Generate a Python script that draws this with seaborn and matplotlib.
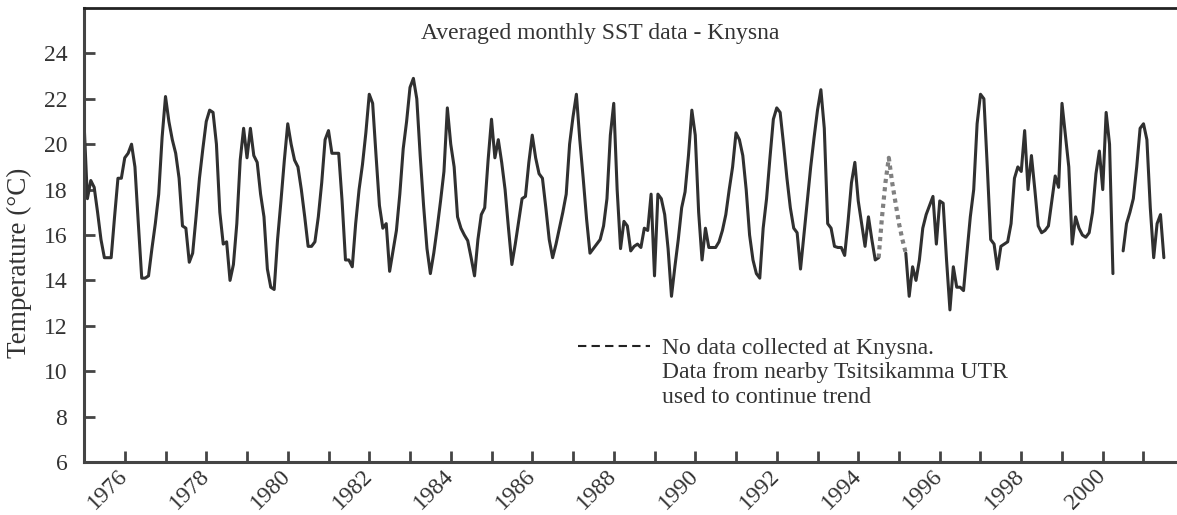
import numpy as np
import pandas as pd
import matplotlib
matplotlib.use("Agg")
import matplotlib.pyplot as plt
from matplotlib.lines import Line2D
import seaborn as sns

nan = np.nan

# Monthly averaged SST at Knysna (deg C), rows of 12 months starting Jan 1975
knysna_sst = [
    21.0, 17.6, 18.4, 18.1, 17.0, 15.8, 15.0, 15.0, 15.0, 16.8, 18.5, 18.5,
    19.4, 19.6, 20.0, 19.0, 16.5, 14.1, 14.1, 14.2, 15.4, 16.5, 17.8, 20.3,
    22.1, 21.0, 20.2, 19.6, 18.5, 16.4, 16.3, 14.8, 15.2, 16.8, 18.5, 19.8,
    21.0, 21.5, 21.4, 20.0, 17.0, 15.6, 15.7, 14.0, 14.7, 16.5, 19.3, 20.7,
    19.4, 20.7, 19.5, 19.2, 17.8, 16.8, 14.5, 13.7, 13.6, 15.8, 17.5, 19.3,
    20.9, 20.0, 19.3, 19.0, 18.0, 16.8, 15.5, 15.5, 15.7, 16.8, 18.3, 20.2,
    20.6, 19.6, 19.6, 19.6, 17.5, 14.9, 14.9, 14.6, 16.5, 18.0, 19.1, 20.5,
    22.2, 21.8, 19.5, 17.3, 16.3, 16.5, 14.4, 15.3, 16.2, 17.8, 19.8, 21.0,
    22.5, 22.9, 22.0, 19.5, 17.3, 15.4, 14.3, 15.2, 16.3, 17.5, 18.8, 21.6,
    20.0, 19.0, 16.8, 16.3, 16.0, 15.75, 15.0, 14.2, 15.8, 16.9, 17.2, 19.3,
    21.1, 19.4, 20.2, 19.2, 18.0, 16.3, 14.7, 15.6, 16.6, 17.6, 17.7, 19.2,
    20.4, 19.4, 18.7, 18.5, 17.2, 15.8, 15.0, 15.6, 16.3, 17.0, 17.8, 20.0,
    21.2, 22.2, 20.2, 18.5, 16.7, 15.2, 15.4, 15.6, 15.8, 16.4, 17.6, 20.4,
    21.8, 18.0, 15.4, 16.6, 16.4, 15.3, 15.5, 15.6, 15.45, 16.3, 16.2, 17.8,
    14.2, 17.8, 17.6, 16.9, 15.4, 13.3, 14.6, 15.8, 17.2, 17.9, 19.5, 21.5,
    20.4, 17.0, 14.9, 16.3, 15.45, 15.45, 15.45, 15.7, 16.2, 16.9, 18.0, 19.0,
    20.5, 20.2, 19.5, 18.0, 16.0, 14.9, 14.3, 14.1, 16.3, 17.6, 19.4, 21.1,
    21.6, 21.4, 20.0, 18.5, 17.2, 16.3, 16.1, 14.5, 16.0, 17.5, 19.0, 20.3,
    21.5, 22.4, 20.7, 16.5, 16.3, 15.5, 15.45, 15.45, 15.1, 16.6, 18.3, 19.2,
    17.5, 16.5, 15.5, 16.8, 15.8, 14.9, 15.0, nan, nan, nan, nan, nan,
    nan, nan, 15.2, 13.3, 14.6, 14.0, 14.9, 16.3, 16.9, 17.3, 17.7, 15.6,
    17.5, 17.4, 14.9, 12.7, 14.6, 13.7, 13.7, 13.55, 15.2, 16.8, 18.0, 20.9,
    22.2, 22.0, 19.0, 15.8, 15.6, 14.5, 15.5, 15.6, 15.7, 16.5, 18.5, 19.0,
    18.8, 20.6, 18.0, 19.5, 18.0, 16.4, 16.1, 16.2, 16.4, 17.5, 18.6, 18.1,
    21.8, 20.4, 19.0, 15.6, 16.8, 16.3, 16.0, 15.9, 16.1, 17.0, 18.7, 19.7,
    18.0, 21.4, 20.0, 14.3, nan, nan, 15.3, 16.5, 17.0, 17.6, 19.0, 20.7,
    20.9, 20.2, 17.2, 15.0, 16.5, 16.9, 15.0,
]

# Tsitsikamma UTR data used to bridge the Knysna gap (month index 234..242)
tsitsikamma_start = 234
tsitsikamma_sst = [15.0, 16.8, 18.3, 19.4, 18.3, 17.4, 16.5, 15.8, 15.2]

start_year = 1975
labelled_years = list(range(1976, 2001, 2))
unlabelled_years = list(range(1977, 2002, 2))
y_ticks = list(range(6, 25, 2))

title_text = "Averaged monthly SST data - Knysna"
note_first = "No data collected at Knysna."
note_rest = "Data from nearby Tsitsikamma UTR\nused to continue trend"
y_label = "Temperature (\u00b0C)"

# ---- build tables ----
n = len(knysna_sst)
df = pd.DataFrame({"idx": np.arange(n), "sst": knysna_sst})
df["year"] = start_year + df["idx"] / 12.0
df["seg"] = df["sst"].isna().cumsum()
df = df.dropna()

dfd = pd.DataFrame({"idx": tsitsikamma_start + np.arange(len(tsitsikamma_sst)),
                    "sst": tsitsikamma_sst})
dfd["year"] = start_year + dfd["idx"] / 12.0

# ---- style ----
sns.set_style("ticks")
plt.rcParams["font.family"] = ["Liberation Serif", "DejaVu Serif"]
text_col = "#333333"
axis_col = "#444444"
fs = 17

fig = plt.figure(figsize=(11.77, 5.15), dpi=100)
ax = fig.add_axes([84 / 1177, 53 / 515, 1 - 84 / 1177, 454 / 515])

sns.lineplot(data=df, x="year", y="sst", units="seg", estimator=None,
             color="#303030", linewidth=2.2, ax=ax, legend=False)
sns.lineplot(data=dfd, x="year", y="sst", color="#808080", linewidth=3.0,
             linestyle=(0, (1, 1)), ax=ax, legend=False)

ax.set_xlim(1975.0, 1975.0 + 1093 / 40.75)
ax.set_ylim(6, 26)
ax.set_yticks(y_ticks)
ax.set_xticks(labelled_years)
ax.set_xticks(unlabelled_years, minor=True)
ax.set_xticklabels([str(y) for y in labelled_years], rotation=45,
                   ha="right", va="center", rotation_mode="anchor")

for which in ("major", "minor"):
    ax.tick_params(axis="both", which=which, direction="in", length=8,
                   width=2, color=axis_col, labelcolor=text_col,
                   labelsize=fs)
ax.tick_params(axis="y", which="major", pad=12)
ax.tick_params(axis="x", which="major", pad=8)

for s in ("left", "bottom"):
    ax.spines[s].set_linewidth(2.2)
    ax.spines[s].set_color(axis_col)
ax.spines["top"].set_visible(True)
ax.spines["top"].set_linewidth(2.0)
ax.spines["top"].set_color("#222222")
ax.spines["right"].set_visible(False)

ax.set_xlabel("")
ax.set_ylabel(y_label, fontsize=19.5, color=text_col)
ax.yaxis.set_label_coords(-0.048, 0.438)

ax.text((600 - 84) / 1093, (462 - 33) / 454, title_text, transform=ax.transAxes,
        ha="center", va="center", fontsize=fs, color=text_col)

handle = Line2D([], [], color="#222222", linewidth=1.5, linestyle=(0, (4, 2.5)))
leg = ax.legend([handle], [note_first], loc="center left",
                bbox_to_anchor=((578 - 84) / 1093, (462 - 348) / 454),
                frameon=False, fontsize=fs, handlelength=72 / 23.6,
                handletextpad=12 / 23.6, borderpad=0, borderaxespad=0)
for t in leg.get_texts():
    t.set_color(text_col)
ax.text((662 - 84) / 1093, (462 - 362) / 454, note_rest, transform=ax.transAxes,
        ha="left", va="top", fontsize=fs, color=text_col, linespacing=1.28)

fig.savefig("out.png", dpi=100)
